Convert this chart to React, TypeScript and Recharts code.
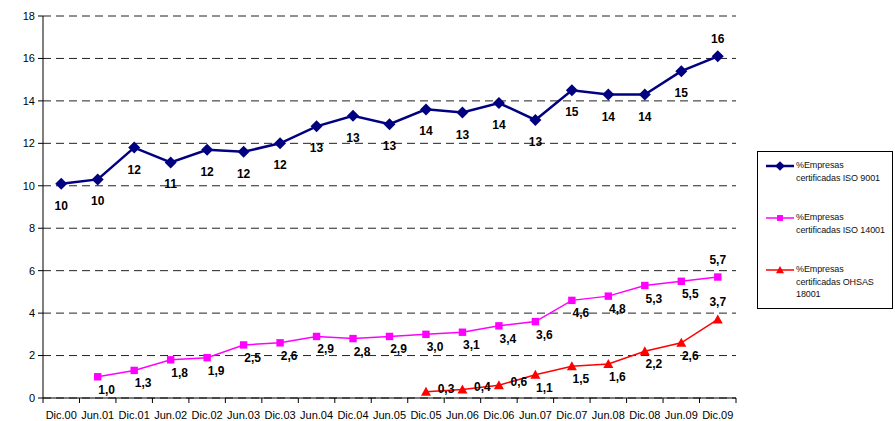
import React from 'react';
import { LineChart, Line, XAxis, YAxis, CartesianGrid, LabelList } from 'recharts';

const categories = [
  'Dic.00', 'Jun.01', 'Dic.01', 'Jun.02', 'Dic.02', 'Jun.03', 'Dic.03', 'Jun.04', 'Dic.04', 'Jun.05',
  'Dic.05', 'Jun.06', 'Dic.06', 'Jun.07', 'Dic.07', 'Jun.08', 'Dic.08', 'Jun.09', 'Dic.09',
];
const iso9001 = [10.1, 10.3, 11.8, 11.1, 11.7, 11.6, 12.0, 12.8, 13.3, 12.9, 13.6, 13.45, 13.9, 13.1, 14.5, 14.3, 14.3, 15.4, 16.1];
const iso14001 = [null, 1.0, 1.3, 1.8, 1.9, 2.5, 2.6, 2.9, 2.8, 2.9, 3.0, 3.1, 3.4, 3.6, 4.6, 4.8, 5.3, 5.5, 5.7];
const ohsas = [null, null, null, null, null, null, null, null, null, null, 0.3, 0.4, 0.6, 1.1, 1.5, 1.6, 2.2, 2.6, 3.7];
const yTicks = [0, 2, 4, 6, 8, 10, 12, 14, 16, 18];

const series = [
  { key: 'iso9001', name: ['%Empresas', 'certificadas ISO 9001'], color: '#000080', shape: 'diamond' },
  { key: 'iso14001', name: ['%Empresas', 'certificadas ISO 14001'], color: '#FF00FF', shape: 'square' },
  { key: 'ohsas', name: ['%Empresas', 'certificadas OHSAS', '18001'], color: '#FF0000', shape: 'triangle' },
];

const data = categories.map((c, i) => ({
  cat: c,
  iso9001: iso9001[i],
  iso14001: iso14001[i],
  ohsas: ohsas[i],
}));

const W = 895;
const H = 421;
const PLOT_LEFT = 43;
const PLOT_RIGHT = 736;
const STEP = (PLOT_RIGHT - PLOT_LEFT) / categories.length;

function marker(shape: string, cx: number, cy: number, color: string, s = 1) {
  if (shape === 'diamond') {
    const r = 6 * s;
    return <path d={`M${cx},${cy - r}L${cx + r},${cy}L${cx},${cy + r}L${cx - r},${cy}Z`} fill={color} />;
  }
  if (shape === 'square') {
    const r = 3.7 * s;
    return <rect x={cx - r} y={cy - r} width={r * 2} height={r * 2} fill={color} />;
  }
  const r = 5 * s;
  return <path d={`M${cx},${cy - r}L${cx + r},${cy + r * 0.8}L${cx - r},${cy + r * 0.8}Z`} fill={color} />;
}

const makeDot = (shape: string, color: string) => (props: any) => {
  const { cx, cy, index, value } = props;
  if (cy == null || value == null || cx == null) return <g key={`d${index}`} />;
  return <g key={`d${index}`}>{marker(shape, cx, cy, color)}</g>;
};

// labels go below-right of the point; the last one sits above, and ones that
// would hit the x axis are pushed to the right side instead
const makeLabel = (fmt: (v: number) => string, dx: number, dy: number) => (props: any) => {
  const { x, y, value, index } = props;
  if (value == null || x == null || y == null) return null;
  const last = index === categories.length - 1;
  let lx = x + dx;
  let ly = y + dy;
  if (last) {
    lx = x;
    ly = y - 17;
  } else if (y + dy > 392) {
    lx = x + 20;
    ly = y - 3;
  }
  return (
    <text
      x={lx}
      y={ly}
      textAnchor="middle"
      dominantBaseline="central"
      fontSize={12}
      fontWeight="bold"
      fill="#000"
    >
      {fmt(value)}
    </text>
  );
};

const fmtInt = (v: number) => Math.round(v).toString();
const fmtDec = (v: number) => v.toFixed(1).replace('.', ',');

function XTick(props: any) {
  const { x, y, payload, index } = props;
  const half = STEP / 2;
  return (
    <g>
      <line x1={x - half} x2={x - half} y1={y} y2={y + 5} stroke="#000" />
      {index === categories.length - 1 && <line x1={x + half} x2={x + half} y1={y} y2={y + 5} stroke="#000" />}
      <text x={x} y={y + 21} textAnchor="middle" fontSize={11} fill="#000">
        {payload.value}
      </text>
    </g>
  );
}

function LegendBox() {
  const rows = [14, 66, 118];
  return (
    <div
      style={{
        position: 'absolute',
        left: 757,
        top: 151,
        width: 136,
        height: 158,
        border: '1px solid #000',
        boxSizing: 'border-box',
        background: '#fff',
      }}
    >
      {series.map((s, i) => (
        <div key={s.key}>
          <svg style={{ position: 'absolute', left: 8, top: rows[i] - 7 }} width={30} height={14}>
            <line x1={0} x2={28} y1={7} y2={7} stroke={s.color} strokeWidth={i === 0 ? 2.5 : 1.5} />
            {marker(s.shape, 14, 7, s.color, 0.8)}
          </svg>
          <div
            style={{
              position: 'absolute',
              left: 38,
              top: rows[i] - 7,
              fontSize: 9,
              lineHeight: '12.5px',
              letterSpacing: -0.1,
              color: '#111',
              whiteSpace: 'nowrap',
            }}
          >
            {s.name.map((n) => (
              <div key={n}>{n}</div>
            ))}
          </div>
        </div>
      ))}
    </div>
  );
}

export default function App() {
  return (
    <div
      style={{
        position: 'fixed',
        left: 0,
        top: 0,
        width: W,
        height: H,
        background: '#fff',
        fontFamily: '"Liberation Sans", Arial, sans-serif',
      }}
    >
      <LineChart width={W} height={H} data={data} margin={{ top: 16, right: W - PLOT_RIGHT, bottom: 0, left: 0 }}>
        <CartesianGrid vertical={false} strokeDasharray="8 5" stroke="#222" />
        <XAxis
          dataKey="cat"
          interval={0}
          height={23}
          padding={{ left: STEP / 2, right: STEP / 2 }}
          tickSize={0}
          tickMargin={0}
          tickLine={false}
          axisLine={{ stroke: '#000' }}
          tick={<XTick />}
        />
        <YAxis
          width={PLOT_LEFT}
          domain={[0, 18]}
          ticks={yTicks}
          interval={0}
          tickSize={5}
          tickMargin={3}
          axisLine={{ stroke: '#000' }}
          tickLine={{ stroke: '#000' }}
          tick={{ fontSize: 11, fill: '#000' }}
        />
        <YAxis yAxisId="r" orientation="right" width={0} tick={false} tickLine={false} axisLine={{ stroke: '#999' }} />
        <Line
          dataKey="iso9001"
          stroke="#000080"
          strokeWidth={2.5}
          dot={makeDot('diamond', '#000080')}
          activeDot={false}
          isAnimationActive={false}
        >
          <LabelList dataKey="iso9001" content={makeLabel(fmtInt, 0, 22)} />
        </Line>
        <Line
          dataKey="iso14001"
          stroke="#FF00FF"
          strokeWidth={1.5}
          dot={makeDot('square', '#FF00FF')}
          activeDot={false}
          isAnimationActive={false}
        >
          <LabelList dataKey="iso14001" content={makeLabel(fmtDec, 9, 13)} />
        </Line>
        <Line
          dataKey="ohsas"
          stroke="#FF0000"
          strokeWidth={1.5}
          dot={makeDot('triangle', '#FF0000')}
          activeDot={false}
          isAnimationActive={false}
        >
          <LabelList dataKey="ohsas" content={makeLabel(fmtDec, 9, 13)} />
        </Line>
      </LineChart>
      <LegendBox />
    </div>
  );
}
